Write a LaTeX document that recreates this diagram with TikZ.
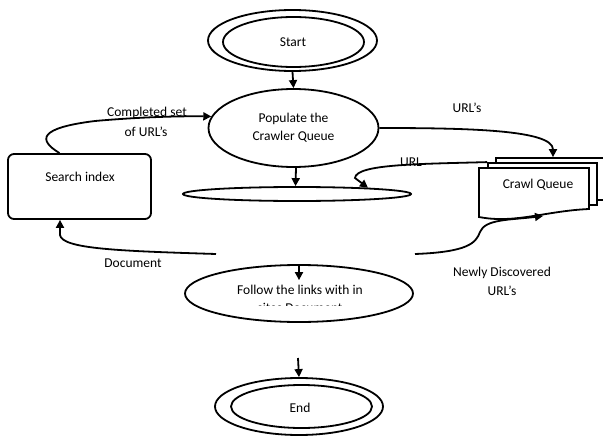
\documentclass[tikz,border=0pt]{standalone}
\usepackage{fontspec}
\setmainfont{Carlito}
\usetikzlibrary{shapes.geometric,arrows.meta}
\begin{document}
\begin{tikzpicture}[x=1pt,y=-1pt,
  line/.style={line width=1.8pt},
  arr/.style={line width=1.8pt,-{Triangle[length=8pt,width=8pt]}},
  ell/.style={ellipse,draw,line width=1.8pt,inner sep=0pt},
  txt/.style={font=\fontsize{13.5}{18}\selectfont,align=center,inner sep=0pt},
  page/.style={draw,fill=white,line width=1.8pt,inner sep=0pt}]
\useasboundingbox (0,0) rectangle (603,436);
\clip (0,0) rectangle (603,436);
% Start
\node[ell,minimum width=169,minimum height=61] (startout) at (292.5,40.5) {};
\node[ell,minimum width=141,minimum height=50] (startin) at (293.5,42) {};
\node[txt] (starttxt) at (293,42) {Start};
% Populate
\node[ell,minimum width=170,minimum height=78,txt] (pop) at (293.5,128) {Populate the\\Crawler Queue};
% flat ellipse
\node[ell,minimum width=228,minimum height=14] (flat) at (297,194) {};
% Search index
\node[draw,line width=1.8pt,rounded corners=6pt,minimum width=143,minimum height=65,inner sep=0pt] (search) at (79.5,186.5) {};
\node[txt] (searchtxt) at (80,177) {Search index};
% Crawl queue pages
\node[page,minimum width=118,minimum height=42] (cqback) at (555,179) {};
\node[page,minimum width=109,minimum height=42] (cqmid) at (542.5,184) {};
\draw[line,fill=white] (479,168) -- (589,168) -- (589,209)
  .. controls (545,211) and (515,224) .. (479,217) -- cycle;
\node[txt] (cqtxt) at (538,185) {Crawl Queue};
% Follow
\node[ell,minimum width=228,minimum height=57] (follow) at (299,293.5) {};
\node[txt] (followtxt) at (300,290) {Follow the links with in};
\begin{scope}
  \clip (180,280) rectangle (420,305.5);
  \node[txt] (followtxt2) at (300,308) {sites Document};
\end{scope}
% End
\node[ell,minimum width=168,minimum height=57] (endout) at (299,406.5) {};
\node[ell,minimum width=141,minimum height=43] (endin) at (301.5,406.5) {};
\node[txt] (endtxt) at (300,408) {End};
% coordinates
\coordinate (docstart) at (216,254);
\coordinate (ndstart) at (415,254);
\coordinate (cqin) at (543,216);
\coordinate (endabove) at (298,358);
% connectors
\draw[arr] (startout.south) -- (pop.north);
\draw[arr] ([xshift=2.5]pop.south) -- ([xshift=-1.5]flat.north);
\draw[arr] ([xshift=-20]search.north) .. controls (38,140) and (38,128) .. (95,121)
  .. controls (140,117) and (180,116) .. (pop.172);
\draw[arr] (docstart) .. controls (120,251) and (62,249) .. (60,235) -- ([xshift=-19.5]search.south);
\draw[arr] (pop.east) .. controls (470,128) and (553,130) .. ([xshift=-2]cqback.north);
\draw[arr] (cqmid.north west) .. controls (420,164) and (356,164) .. (355,178) -- (flat.5.8);
\draw[arr] (ndstart) .. controls (468,252) and (476,243) .. (480,232)
  .. controls (485,219) and (510,220) .. (cqin);
\draw[arr] (follow.north) -- ++(0,16);
\draw[arr] (endabove) -- (endout.north);
% labels
\node[txt] (l1) at (147,113) {Completed set};
\node[txt] (l2) at (146,132) {of URL’s};
\node[txt] (l3) at (133,263) {Document};
\node[txt] (l4) at (467,108) {URL’s};
\node[txt] (l5) at (411,162) {URL};
\node[txt] (l6) at (502,273) {Newly Discovered};
\node[txt] (l7) at (502,291) {URL’s};
\end{tikzpicture}
\end{document}
